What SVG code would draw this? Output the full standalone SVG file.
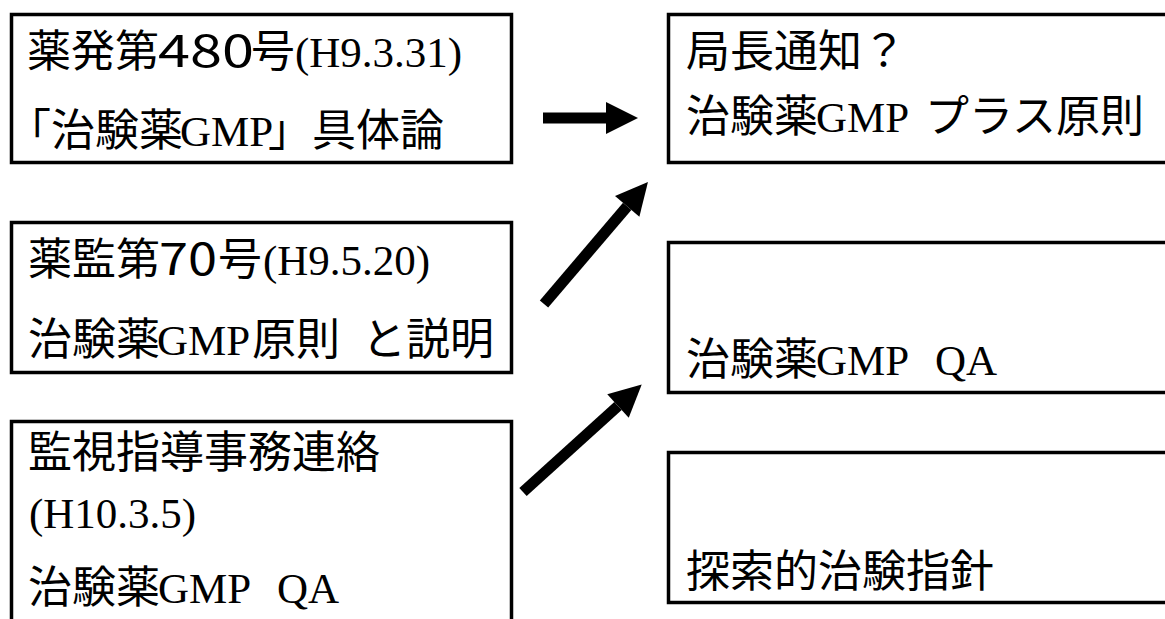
<svg xmlns="http://www.w3.org/2000/svg" width="1165" height="619" viewBox="0 0 1165 619">
  <style>
    .box { fill: #ffffff; stroke: #000000; stroke-width: 3.5; }
    .jp { font-family: "Noto Sans CJK JP", "Noto Sans CJK SC", sans-serif; font-size: 44px; fill: #000000; }
    .en { font-family: "Liberation Serif", "Times New Roman", serif; font-size: 43px; fill: #000000; }
    .shaft { stroke: #000000; stroke-width: 11; fill: none; }
  </style>
  <defs>
    <marker id="head" markerUnits="userSpaceOnUse" markerWidth="34" markerHeight="34" refX="0" refY="16" orient="auto" overflow="visible">
      <path d="M0,0 L32,16 L0,32 Z" fill="#000000"/>
    </marker>
  </defs>
  <rect width="1165" height="619" fill="#ffffff"/>

  <!-- left column -->
  <g id="notice-480">
    <rect class="box" x="11.5" y="14.5" width="500" height="148"/>
    <text y="67"><tspan class="jp" x="27">薬発第</tspan><tspan class="jp" x="158" textLength="96" lengthAdjust="spacingAndGlyphs">480</tspan><tspan class="jp" x="251">号</tspan><tspan class="en" x="295">(H9.3.31)</tspan></text>
    <text y="146"><tspan class="jp" x="7">「</tspan><tspan class="jp" x="51">治験薬</tspan><tspan class="en" x="180">GMP</tspan><tspan class="jp" x="268">」具体論</tspan></text>
  </g>

  <g id="notice-70">
    <rect class="box" x="11.5" y="222.5" width="500" height="150"/>
    <text y="275"><tspan class="jp" x="28">薬監第</tspan><tspan class="jp" x="159" textLength="58" lengthAdjust="spacingAndGlyphs">70</tspan><tspan class="jp" x="218">号</tspan><tspan class="en" x="263">(H9.5.20)</tspan></text>
    <text y="355"><tspan class="jp" x="28">治験薬</tspan><tspan class="en" x="157">GMP</tspan><tspan class="jp" x="252">原則</tspan><tspan class="jp" x="362">と説明</tspan></text>
  </g>

  <g id="liaison">
    <rect class="box" x="11.5" y="421.5" width="500" height="230"/>
    <text class="jp" x="28" y="468">監視指導事務連絡</text>
    <text class="en" x="29" y="528">(H10.3.5)</text>
    <text y="603"><tspan class="jp" x="28">治験薬</tspan><tspan class="en" x="158">GMP</tspan><tspan class="en" x="277">QA</tspan></text>
  </g>

  <!-- right column -->
  <g id="director-notice">
    <rect class="box" x="668.5" y="14.5" width="520" height="148"/>
    <text class="jp" x="686" y="67">局長通知？</text>
    <text y="132"><tspan class="jp" x="686">治験薬</tspan><tspan class="en" x="816">GMP</tspan><tspan class="jp" x="925">プラス原則</tspan></text>
  </g>

  <g id="gmp-qa">
    <rect class="box" x="668.5" y="242.5" width="520" height="150"/>
    <text y="375"><tspan class="jp" x="686">治験薬</tspan><tspan class="en" x="816">GMP</tspan><tspan class="en" x="935">QA</tspan></text>
  </g>

  <g id="exploratory">
    <rect class="box" x="668.5" y="452.5" width="520" height="150"/>
    <text class="jp" x="686" y="587">探索的治験指針</text>
  </g>

  <!-- connectors -->
  <g id="connectors">
    <line class="shaft" x1="543" y1="118" x2="606" y2="118" marker-end="url(#head)"/>
    <line class="shaft" x1="544" y1="304" x2="627.2" y2="206.4" marker-end="url(#head)"/>
    <line class="shaft" x1="523" y1="492" x2="618" y2="406" marker-end="url(#head)"/>
  </g>
</svg>
